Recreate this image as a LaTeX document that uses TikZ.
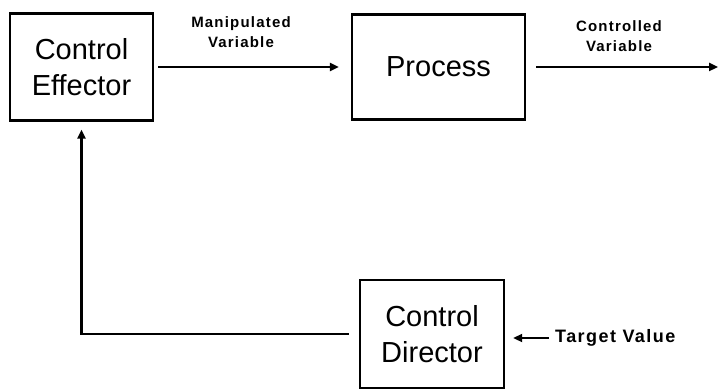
\documentclass[tikz,border=0pt]{standalone}
\usepackage{fontspec}
\setmainfont{Liberation Sans}
\usetikzlibrary{
  arrows.meta,
  positioning,
}
\tikzstyle{block} = [
  rectangle,
  draw,
  line width=2.4pt,
  align=center,
  inner sep=0pt,
  font=\fontsize{29}{36}\selectfont,
]
\tikzstyle{arrow} = [
  -{Triangle[length=9pt,width=8pt]},
  line width=2.8pt,
]
\tikzstyle{signal} = [
  align=center,
  inner sep=2pt,
  font=\bfseries\fontsize{15}{20}\selectfont\addfontfeature{LetterSpace=8},
]

\begin{document}
\begin{tikzpicture}[x=1pt,y=-1pt]
			\useasboundingbox (0,0) rectangle (719,390);

			\node[block,minimum width=143,minimum height=107] (effector) at (81.5,67)  {Control\\Effector};
			\node[block,minimum width=173,minimum height=105] (process) at (438.5,67)  {Process};
			\node[block,minimum width=144,minimum height=108] (director) at (432,334)  {Control\\Director};

			\node[signal] (manipulated) at (241,32) {Manipulated\\Variable};
			\node[signal] (controlled) at (619,36) {Controlled\\Variable};
			\node[signal,anchor=west,font=\bfseries\fontsize{18}{22}\selectfont\addfontfeature{LetterSpace=8}] (target) at (553,338) {Target Value};

			\coordinate (out) at (718,67);

			\draw[arrow,shorten <=4pt,shorten >=12pt] (effector.east) -- (process.west);
			\draw[arrow,shorten <=10pt] (process.east) -- (out);
			\draw[arrow,shorten <=10pt,shorten >=8pt] (director.west) -| (effector.south);
			\draw[arrow,line width=2pt,shorten <=4pt,shorten >=8pt] (target.west) -- (target.west -| director.east);
		\end{tikzpicture}
\end{document}
